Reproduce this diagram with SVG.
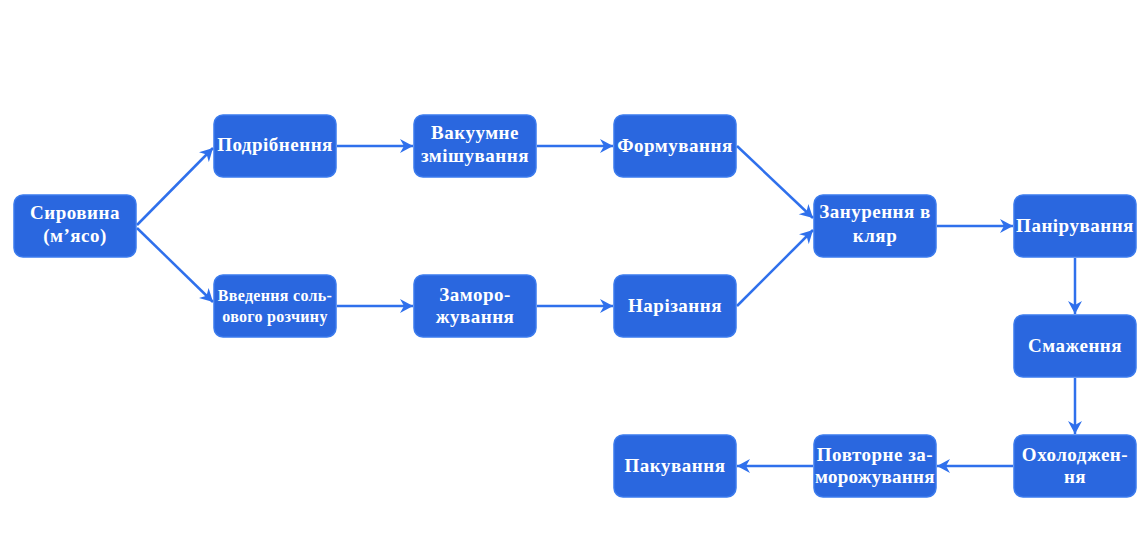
<svg xmlns="http://www.w3.org/2000/svg" width="1148" height="543" viewBox="0 0 1148 543">
<style>
.n rect{fill:#2a67df;stroke:#3b7bee;stroke-width:1.5}
.n text{fill:#fff;font-family:"Liberation Serif",serif;font-weight:bold;font-size:19px;letter-spacing:0.5px;text-anchor:middle}
.n text.s{font-size:16px;letter-spacing:0.3px}
.c line{stroke:#2f70ec;stroke-width:2.5;marker-end:url(#a)}
</style>
<defs>
<marker id="a" viewBox="0 0 14 15" refX="13" refY="7.5" markerWidth="14" markerHeight="15" markerUnits="userSpaceOnUse" orient="auto">
<path d="M0,0.5 L13,7.5 L0,14.5 L4,7.5 Z" fill="#2f70ec"/>
</marker>
</defs>
<rect width="1148" height="543" fill="#fff"/>
<g class="c">
<line x1="137" y1="225" x2="213" y2="148"/>
<line x1="137" y1="228" x2="213" y2="302"/>
<line x1="337" y1="146" x2="413" y2="146"/>
<line x1="537" y1="146" x2="613" y2="146"/>
<line x1="737" y1="146" x2="813" y2="218"/>
<line x1="337" y1="306" x2="413" y2="306"/>
<line x1="537" y1="306" x2="613" y2="306"/>
<line x1="737" y1="306" x2="813" y2="230"/>
<line x1="937" y1="226" x2="1013" y2="226"/>
<line x1="1075" y1="258" x2="1075" y2="314"/>
<line x1="1075" y1="378" x2="1075" y2="434"/>
<line x1="1013" y1="466" x2="937" y2="466"/>
<line x1="813" y1="466" x2="737" y2="466"/>
</g>
<g id="n1" class="n"><rect x="14" y="195" width="122" height="62" rx="9"/><text x="75" y="219">Сировина</text><text x="75" y="242">(м’ясо)</text></g>
<g id="n2" class="n"><rect x="214" y="115" width="122" height="62" rx="9"/><text x="275" y="151">Подрібнення</text></g>
<g id="n3" class="n"><rect x="214" y="275" width="122" height="62" rx="9"/><text class="s" x="275" y="301">Введення соль-</text><text class="s" x="275" y="322">ового розчину</text></g>
<g id="n4" class="n"><rect x="414" y="115" width="122" height="62" rx="9"/><text x="475" y="139">Вакуумне</text><text x="475" y="162">змішування</text></g>
<g id="n5" class="n"><rect x="414" y="275" width="122" height="62" rx="9"/><text x="475" y="301">Заморо-</text><text x="475" y="323">жування</text></g>
<g id="n6" class="n"><rect x="614" y="115" width="122" height="62" rx="9"/><text x="675" y="152">Формування</text></g>
<g id="n7" class="n"><rect x="614" y="275" width="122" height="62" rx="9"/><text x="675" y="312">Нарізання</text></g>
<g id="n8" class="n"><rect x="814" y="195" width="122" height="62" rx="9"/><text x="875" y="218">Занурення в</text><text x="875" y="242">кляр</text></g>
<g id="n9" class="n"><rect x="1014" y="195" width="122" height="62" rx="9"/><text x="1075" y="232">Панірування</text></g>
<g id="n10" class="n"><rect x="1014" y="315" width="122" height="62" rx="9"/><text x="1075" y="352">Смаження</text></g>
<g id="n11" class="n"><rect x="1014" y="435" width="122" height="62" rx="9"/><text x="1075" y="461">Охолоджен-</text><text x="1075" y="483">ня</text></g>
<g id="n12" class="n"><rect x="814" y="435" width="122" height="62" rx="9"/><text x="875" y="461">Повторне за-</text><text x="875" y="483" textLength="120" lengthAdjust="spacing">морожування</text></g>
<g id="n13" class="n"><rect x="614" y="435" width="122" height="62" rx="9"/><text x="675" y="472">Пакування</text></g>
</svg>
